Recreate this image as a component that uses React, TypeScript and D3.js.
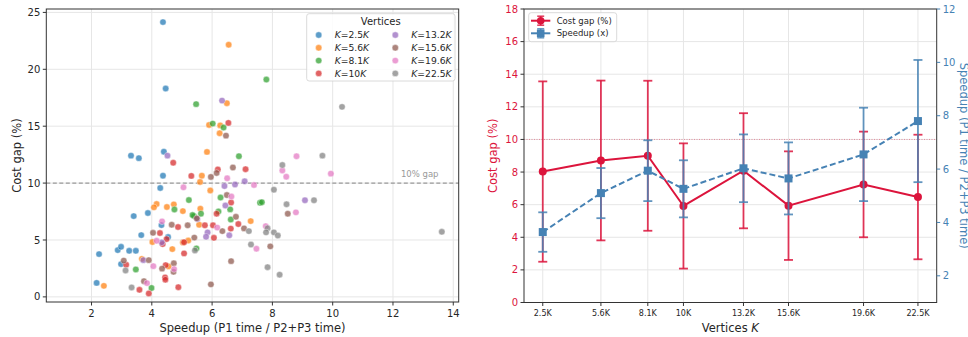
import React from "react";
import * as d3 from "d3";

// ---------- Scatter data (speedup, cost gap) per vertex count ----------
const groupLabels = ["2.5", "5.6", "8.1", "10", "13.2", "15.6", "19.6", "22.5"];
const groupColors = ["#1f77b4", "#ff7f0e", "#2ca02c", "#d62728", "#9467bd", "#8c564b", "#e377c2", "#7f7f7f"];

const ptsK2_5: [number, number][] = [
  [4.37, 24.15], [4.46, 18.31], [3.31, 12.41], [3.57, 12.19], [4.40, 12.76], [4.37, 10.65], [4.28, 9.57],
  [3.40, 7.10], [3.87, 7.37], [4.32, 6.31], [3.65, 5.43], [4.54, 5.26], [2.25, 3.76], [2.87, 4.11],
  [2.98, 4.40], [3.25, 4.05], [3.47, 4.05], [2.98, 2.88], [2.17, 1.23],
];
const ptsK5_6: [number, number][] = [
  [6.55, 22.16], [6.49, 17.02], [5.90, 15.11], [6.27, 15.07], [6.25, 14.38], [5.83, 12.74], [5.66, 10.65],
  [5.60, 10.10], [5.94, 9.35], [4.16, 8.16], [4.07, 7.87], [4.73, 8.13], [4.50, 7.90], [5.03, 7.54],
  [5.61, 7.75], [5.57, 6.34], [7.28, 6.66], [4.02, 4.82], [4.68, 4.20], [5.03, 4.79], [5.21, 4.95],
  [3.67, 3.34], [4.56, 2.68], [2.41, 0.97],
];
const ptsK8_1: [number, number][] = [
  [5.47, 16.94], [7.80, 19.10], [6.02, 15.23], [6.38, 14.88], [6.89, 12.36], [5.23, 8.51], [4.75, 7.68],
  [5.40, 7.10], [5.35, 7.19], [5.63, 7.31], [6.21, 7.50], [6.28, 8.73], [6.60, 7.69], [6.62, 6.80],
  [7.59, 8.27], [7.65, 8.32], [5.48, 4.26], [3.47, 2.41], [3.99, 0.78],
];
const ptsK10: [number, number][] = [
  [6.54, 15.29], [4.71, 11.79], [6.19, 11.20], [7.11, 11.22], [5.31, 10.63], [6.63, 8.29], [6.15, 7.31],
  [6.87, 6.40], [6.62, 6.00], [6.03, 6.29], [5.76, 6.29], [6.06, 5.19], [4.87, 6.14], [4.27, 5.61],
  [4.49, 5.08], [4.36, 4.64], [5.07, 4.80], [5.07, 3.82], [3.15, 2.82], [4.46, 2.79], [4.44, 1.71],
  [4.45, 1.51], [3.59, 0.62], [3.90, 0.30], [4.88, 0.85],
];
const ptsK13_2: [number, number][] = [
  [6.33, 17.25], [4.52, 12.41], [7.08, 10.16], [6.76, 9.88], [6.41, 9.74], [9.08, 8.49], [6.44, 8.03],
  [6.57, 5.41], [5.85, 5.67], [5.80, 5.28], [4.33, 4.79], [3.72, 3.23], [5.51, 6.84],
];
const ptsK15_6: [number, number][] = [
  [6.46, 14.17], [6.69, 11.37], [6.15, 10.89], [5.96, 10.54], [6.49, 8.95], [8.51, 7.31], [6.79, 7.04],
  [7.06, 6.02], [6.34, 5.78], [5.49, 6.90], [5.19, 6.29], [4.66, 6.34], [4.04, 5.63], [5.41, 5.21],
  [7.93, 4.44], [3.07, 3.19], [3.90, 3.23], [4.34, 2.48], [4.73, 2.95], [4.72, 2.20], [3.74, 1.38],
  [6.63, 3.14], [5.96, 1.10],
];
const ptsK19_6: [number, number][] = [
  [8.80, 12.36], [8.33, 11.11], [8.46, 10.56], [9.94, 10.83], [6.50, 10.42], [7.39, 9.83], [5.05, 9.63],
  [6.64, 8.82], [8.78, 7.43], [6.17, 6.09], [7.78, 6.22], [7.47, 4.23], [4.34, 6.64], [4.16, 4.93],
  [4.05, 2.70], [4.74, 2.44], [3.84, 1.21],
];
const ptsK22_5: [number, number][] = [
  [10.31, 16.70], [9.66, 12.41], [8.33, 11.59], [8.05, 9.42], [9.38, 8.49], [8.47, 8.14], [7.22, 5.78],
  [7.84, 6.03], [7.79, 5.67], [8.05, 5.67], [8.18, 5.39], [7.29, 4.60], [7.84, 2.61], [8.24, 1.95],
  [13.62, 5.72], [5.43, 4.08], [3.13, 2.32], [3.33, 0.83],
];
const scatterGroups = [ptsK2_5, ptsK5_6, ptsK8_1, ptsK10, ptsK13_2, ptsK15_6, ptsK19_6, ptsK22_5];

const scatterXTicks = [2, 4, 6, 8, 10, 12, 14];
const scatterYTicks = [0, 5, 10, 15, 20, 25];

// ---------- Summary data per vertex count ----------
const vertexK = [2.5, 5.6, 8.1, 10, 13.2, 15.6, 19.6, 22.5];
const vertexLabels = ["2.5K", "5.6K", "8.1K", "10K", "13.2K", "15.6K", "19.6K", "22.5K"];
const costMean = [8.03, 8.71, 9.0, 5.92, 8.08, 5.94, 7.24, 6.47];
const costErr = [5.53, 4.9, 4.6, 3.84, 3.53, 3.33, 3.24, 3.82];
const speedMean = [3.64, 5.1, 5.94, 5.26, 6.03, 5.65, 6.55, 7.8];
const speedErr = [0.74, 0.94, 1.14, 1.07, 1.27, 1.35, 1.75, 2.29];
const costTicks = [0, 2, 4, 6, 8, 10, 12, 14, 16, 18];
const speedTicks = [2, 4, 6, 8, 10, 12];

const FONT = "DejaVu Sans, sans-serif";
const RED = "#DC143C";
const BLUE = "#4682B4";
const SPINE = "#333";
const GRID = "#e6e6e6";

export default function App() {
  // left panel
  const L = { left: 46.3, right: 458.7, top: 9, bottom: 302 };
  const sx = d3.scaleLinear().domain([0.5, 14.18]).range([L.left, L.right]);
  const sy = d3.scaleLinear().domain([-0.45, 25.3]).range([L.bottom, L.top]);

  // right panel
  const R = { left: 524, right: 936.7, top: 9, bottom: 302.5 };
  const rx = d3.scaleLinear().domain([1.5, 23.5]).range([R.left, R.right]);
  const ryL = d3.scaleLinear().domain([0, 18]).range([R.bottom, R.top]);
  const ryR = d3.scaleLinear().domain([1, 12]).range([R.bottom, R.top]);

  const costLine = d3.line<number>().x((_, i) => rx(vertexK[i])).y((d) => ryL(d));
  const speedLine = d3.line<number>().x((_, i) => rx(vertexK[i])).y((d) => ryR(d));

  const cap = 4.5;

  return (
    <svg width={968} height={337} style={{ position: "absolute", left: 0, top: 0, background: "#fff" }} fontFamily={FONT}>
      <rect x={0} y={0} width={968} height={337} fill="#fff" />
      {/* ================= LEFT PANEL ================= */}
      <g>
        {scatterXTicks.map((t) => (
          <line key={"gx" + t} x1={sx(t)} x2={sx(t)} y1={L.top} y2={L.bottom} stroke={GRID} strokeWidth={1} />
        ))}
        {scatterYTicks.map((t) => (
          <line key={"gy" + t} x1={L.left} x2={L.right} y1={sy(t)} y2={sy(t)} stroke={GRID} strokeWidth={1} />
        ))}
        <line x1={L.left} x2={L.right} y1={sy(10)} y2={sy(10)} stroke="#999" strokeWidth={1.2} strokeDasharray="4,2.5" />
        <text x={438.5} y={sy(10) - 6.5} fontSize={8.5} fill="#999" textAnchor="end">10% gap</text>
        {scatterGroups.map((g, gi) =>
          g.map((p, pi) => (
            <circle key={gi + "-" + pi} cx={sx(p[0])} cy={sy(p[1])} r={3.2} fill={groupColors[gi]} fillOpacity={0.72}
              stroke="#fff" strokeWidth={0.4} />
          ))
        )}
        <rect x={L.left} y={L.top} width={L.right - L.left} height={L.bottom - L.top} fill="none" stroke={SPINE} strokeWidth={1} />
        {scatterXTicks.map((t) => (
          <g key={"tx" + t}>
            <line x1={sx(t)} x2={sx(t)} y1={L.bottom} y2={L.bottom + 3.5} stroke={SPINE} />
            <text x={sx(t)} y={L.bottom + 14.5} fontSize={10} textAnchor="middle" fill="#262626">{t}</text>
          </g>
        ))}
        {scatterYTicks.map((t) => (
          <g key={"ty" + t}>
            <line x1={L.left - 3.5} x2={L.left} y1={sy(t)} y2={sy(t)} stroke={SPINE} />
            <text x={L.left - 6} y={sy(t) + 3.6} fontSize={10} textAnchor="end" fill="#262626">{t}</text>
          </g>
        ))}
        <text x={(L.left + L.right) / 2} y={332} fontSize={11.5} textAnchor="middle" fill="#262626">Speedup (P1 time / P2+P3 time)</text>
        <text transform={`translate(21,${(L.top + L.bottom) / 2}) rotate(-90)`} fontSize={11.5} textAnchor="middle" fill="#262626">Cost gap (%)</text>
        {/* legend */}
        <rect x={306.7} y={13.7} width={148.3} height={67.3} rx={2.5} fill="#fff" fillOpacity={0.85} stroke="#d0d0d0" strokeWidth={0.8} />
        <text x={380.8} y={24.5} fontSize={10} textAnchor="middle" fill="#262626">Vertices</text>
        {groupLabels.map((lab, i) => {
          const col = Math.floor(i / 4);
          const row = i % 4;
          const mx = col === 0 ? 318.7 : 395.3;
          const ty = 35 + row * 12.8;
          return (
            <g key={"lg" + i}>
              <circle cx={mx} cy={ty} r={3.2} fill={groupColors[i]} fillOpacity={0.72} stroke="#fff" strokeWidth={0.4} />
              <text x={mx + 16} y={ty + 3.3} fontSize={9.2} fill="#262626">
                <tspan fontStyle="italic">K</tspan>={lab}<tspan fontStyle="italic">K</tspan>
              </text>
            </g>
          );
        })}
      </g>

      {/* ================= RIGHT PANEL ================= */}
      <g>
        {vertexK.map((k) => (
          <line key={"rgx" + k} x1={rx(k)} x2={rx(k)} y1={R.top} y2={R.bottom} stroke={GRID} strokeWidth={1} />
        ))}
        {costTicks.map((t) => (
          <line key={"rgy" + t} x1={R.left} x2={R.right} y1={ryL(t)} y2={ryL(t)} stroke={GRID} strokeWidth={1} />
        ))}
        <line x1={R.left} x2={R.right} y1={ryL(10)} y2={ryL(10)} stroke={RED} strokeOpacity={0.55} strokeWidth={0.8} strokeDasharray="1,1.5" />

        {/* cost gap errorbars + line */}
        {costMean.map((m, i) => {
          const x = rx(vertexK[i]);
          const y1 = ryL(m + costErr[i]);
          const y2 = ryL(m - costErr[i]);
          return (
            <g key={"ce" + i} stroke={RED} strokeOpacity={0.85} strokeWidth={1.8}>
              <line x1={x} x2={x} y1={y1} y2={y2} />
              <line x1={x - cap} x2={x + cap} y1={y1} y2={y1} />
              <line x1={x - cap} x2={x + cap} y1={y2} y2={y2} />
            </g>
          );
        })}
        <path d={costLine(costMean) || ""} fill="none" stroke={RED} strokeWidth={2} />
        {costMean.map((m, i) => (
          <circle key={"cm" + i} cx={rx(vertexK[i])} cy={ryL(m)} r={4} fill={RED} />
        ))}

        {/* speedup errorbars + line */}
        {speedMean.map((m, i) => {
          const x = rx(vertexK[i]);
          const y1 = ryR(m + speedErr[i]);
          const y2 = ryR(m - speedErr[i]);
          return (
            <g key={"se" + i} stroke={BLUE} strokeOpacity={0.85} strokeWidth={1.8}>
              <line x1={x} x2={x} y1={y1} y2={y2} />
              <line x1={x - cap} x2={x + cap} y1={y1} y2={y1} />
              <line x1={x - cap} x2={x + cap} y1={y2} y2={y2} />
            </g>
          );
        })}
        <path d={speedLine(speedMean) || ""} fill="none" stroke={BLUE} strokeWidth={2} strokeDasharray="6,3" />
        {speedMean.map((m, i) => (
          <rect key={"sm" + i} x={rx(vertexK[i]) - 4} y={ryR(m) - 4} width={8} height={8} fill={BLUE} />
        ))}

        <rect x={R.left} y={R.top} width={R.right - R.left} height={R.bottom - R.top} fill="none" stroke={SPINE} strokeWidth={1} />
        {vertexK.map((k, i) => (
          <g key={"rtx" + k}>
            <line x1={rx(k)} x2={rx(k)} y1={R.bottom} y2={R.bottom + 3.5} stroke={SPINE} />
            <text x={rx(k)} y={R.bottom + 13.5} fontSize={8} textAnchor="middle" fill="#262626">{vertexLabels[i]}</text>
          </g>
        ))}
        {costTicks.map((t) => (
          <g key={"rty" + t}>
            <line x1={R.left - 3.5} x2={R.left} y1={ryL(t)} y2={ryL(t)} stroke={SPINE} />
            <text x={R.left - 6} y={ryL(t) + 3.6} fontSize={10} textAnchor="end" fill={RED}>{t}</text>
          </g>
        ))}
        {speedTicks.map((t) => (
          <g key={"rtr" + t}>
            <line x1={R.right} x2={R.right + 3.5} y1={ryR(t)} y2={ryR(t)} stroke={BLUE} />
            <text x={R.right + 6} y={ryR(t) + 3.6} fontSize={10} textAnchor="start" fill={BLUE}>{t}</text>
          </g>
        ))}
        <text x={(R.left + R.right) / 2} y={332} fontSize={11.5} textAnchor="middle" fill="#262626">
          Vertices <tspan fontStyle="italic">K</tspan>
        </text>
        <text transform={`translate(497,${(R.top + R.bottom) / 2}) rotate(-90)`} fontSize={11.5} textAnchor="middle" fill={RED}>Cost gap (%)</text>
        <text transform={`translate(960,${(R.top + R.bottom) / 2}) rotate(90)`} fontSize={11.5} textAnchor="middle" fill={BLUE}>Speedup (P1 time / P2+P3 time)</text>

        {/* legend */}
        <rect x={528.7} y={12.7} width={88} height={29} rx={2.5} fill="#fff" fillOpacity={0.85} stroke="#d0d0d0" strokeWidth={0.8} />
        {[
          { label: "Cost gap (%)", color: RED, dash: "", sq: false },
          { label: "Speedup (x)", color: BLUE, dash: "", sq: true },
        ].map((e, i) => {
          const y = 20.7 + i * 12.6;
          const cx = 540.7;
          return (
            <g key={"rl" + i}>
              <line x1={531} x2={550.3} y1={y} y2={y} stroke={e.color} strokeWidth={2} />
              <line x1={cx} x2={cx} y1={y - 4.5} y2={y + 4.5} stroke={e.color} strokeOpacity={0.85} strokeWidth={1.5} />
              <line x1={cx - 3.5} x2={cx + 3.5} y1={y - 4.5} y2={y - 4.5} stroke={e.color} strokeOpacity={0.85} strokeWidth={1.5} />
              <line x1={cx - 3.5} x2={cx + 3.5} y1={y + 4.5} y2={y + 4.5} stroke={e.color} strokeOpacity={0.85} strokeWidth={1.5} />
              {e.sq ? (
                <rect x={cx - 3.8} y={y - 3.8} width={7.6} height={7.6} fill={e.color} />
              ) : (
                <circle cx={cx} cy={y} r={3.8} fill={e.color} />
              )}
              <text x={556.7} y={y + 3} fontSize={8.5} fill="#262626">{e.label}</text>
            </g>
          );
        })}
      </g>
    </svg>
  );
}
